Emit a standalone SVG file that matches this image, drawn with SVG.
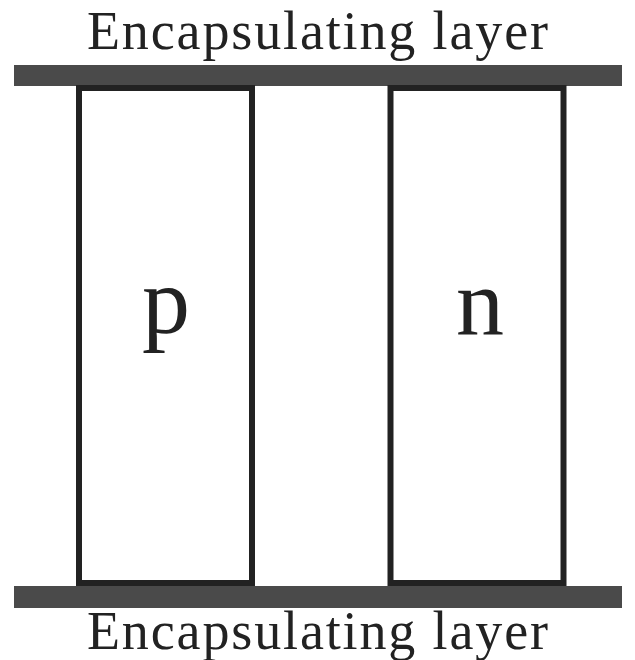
<svg xmlns="http://www.w3.org/2000/svg" width="635" height="660" viewBox="0 0 635 660">
<style>
.bar{fill:#4a4a4a}
.leg{fill:#fff;stroke:#222;stroke-width:6}
.lbl{font-family:"Liberation Serif","DejaVu Serif",serif;fill:#222;text-anchor:middle}
.cap{font-size:54px}
.big{font-size:96px}
</style>
<rect width="635" height="660" fill="#fff"/>
<g id="top-layer">
<rect class="bar" x="14" y="65" width="608" height="21"/>
<text class="lbl cap" x="317.5" y="49" textLength="461" lengthAdjust="spacing">Encapsulating layer</text>
</g>
<g id="bottom-layer">
<rect class="bar" x="14" y="586" width="608" height="22"/>
<text class="lbl cap" x="317.5" y="649" textLength="461" lengthAdjust="spacing">Encapsulating layer</text>
</g>
<g id="p-leg">
<rect class="leg" x="79" y="88" width="173" height="495"/>
<text class="lbl big" x="166" y="333">p</text>
</g>
<g id="n-leg">
<rect class="leg" x="390.5" y="88" width="173" height="495"/>
<text class="lbl big" x="480" y="335">n</text>
</g>
<g id="connectors"></g>
</svg>
